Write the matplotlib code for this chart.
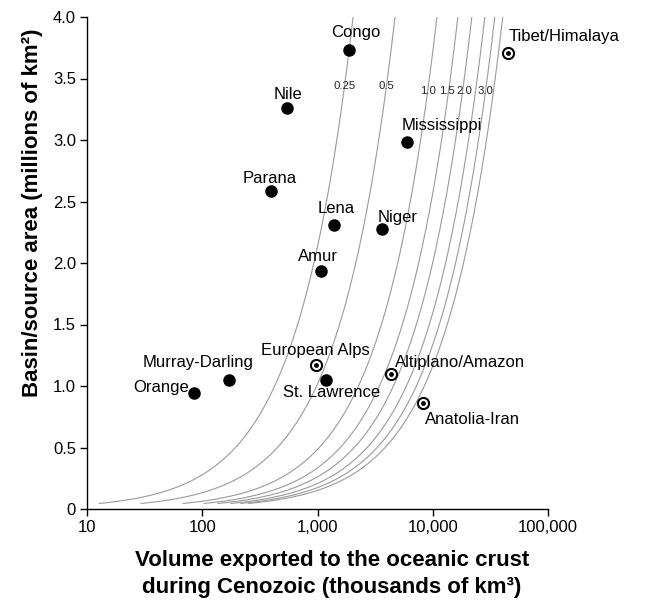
import numpy as np
import matplotlib.pyplot as plt

plt.rcParams['font.family'] = ['Liberation Sans', 'DejaVu Sans']

# river basins: exported volume (thousands of km3) vs basin area (millions of km2)
rivers = ['Congo', 'Nile', 'Mississippi', 'Parana', 'Lena', 'Niger', 'Amur',
          'St. Lawrence', 'Murray-Darling', 'Orange']
river_volume = [1890, 540, 6010, 397, 1377, 3606, 1083, 1189, 169, 84]
river_area = [3.73, 3.26, 2.98, 2.585, 2.31, 2.275, 1.935, 1.045, 1.05, 0.94]

# orogenic source areas
orogens = ['Tibet/Himalaya', 'European Alps', 'Altiplano/Amazon', 'Anatolia-Iran']
orogen_volume = [45100, 977, 4350, 8170]
orogen_area = [3.71, 1.17, 1.10, 0.865]

# reference curves (erosion depth, km): volume at 1 million km2
depths = [0.25, 0.5, 1.0, 1.5, 2.0, 2.5, 3.0, 3.5]
depth_k = [425, 982, 2268, 3447, 4557, 5905, 7208, 8451]
depth_exp = 1.13
depth_labels = ['0.25', '0.5', '1.0', '1.5', '2.0', '', '3.0', '']

xticks = [10, 100, 1000, 10000, 100000]
xticklabels = ['10', '100', '1,000', '10,000', '100,000']
yticks = [0, 0.5, 1.0, 1.5, 2.0, 2.5, 3.0, 3.5, 4.0]
yticklabels = ['0', '0.5', '1.0', '1.5', '2.0', '2.5', '3.0', '3.5', '4.0']

# label offsets in pixels (dx, dy up), alignment
river_off = {
    'Congo': (6, 18, 'center'), 'Nile': (1, 14, 'center'),
    'Mississippi': (35, 17, 'center'), 'Parana': (-2, 13, 'center'),
    'Lena': (3, 16, 'center'), 'Niger': (16, 12, 'center'),
    'Amur': (-4, 14, 'center'), 'St. Lawrence': (5, -12, 'center'),
    'Murray-Darling': (-30, 17, 'center'), 'Orange': (-5, 6, 'right'),
}
orogen_off = {
    'Tibet/Himalaya': (0, 16, 'left'), 'European Alps': (-1, 15, 'center'),
    'Altiplano/Amazon': (4, 11, 'left'), 'Anatolia-Iran': (2, -17, 'left'),
}
# small sideways nudges so the crowded curve labels don't collide
curve_nudge = {'1.5': -2, '2.0': 2}

fig = plt.figure(figsize=(6.62, 6.07), dpi=100)
ax = fig.add_axes([87 / 662, 1 - 509 / 607, 461 / 662, 492 / 607])

area = np.linspace(0.045, 4.0, 400)
for d, k, lab in zip(depths, depth_k, depth_labels):
    vol = k * area ** depth_exp
    ax.plot(vol, area, color='#9a9a9a', lw=0.8, zorder=1)
    if lab:
        ya = 3.44 if d < 1 else 3.40
        ax.annotate(lab, (k * ya ** depth_exp, ya),
                    xytext=(curve_nudge.get(lab, 0), 0), textcoords='offset pixels',
                    fontsize=8.2, ha='center', va='center', color='#222222', zorder=2)

ax.plot(river_volume, river_area, 'o', color='black', ms=8, zorder=3)
ax.plot(orogen_volume, orogen_area, 'o', color='black', ms=8.5, zorder=3)
ax.plot(orogen_volume, orogen_area, 'o', color='white', ms=5.5, zorder=4)
ax.plot(orogen_volume, orogen_area, 'o', color='black', ms=2.5, zorder=5)

for name, v, a in zip(rivers, river_volume, river_area):
    dx, dy, ha = river_off[name]
    ax.annotate(name, (v, a), xytext=(dx, dy), textcoords='offset pixels',
                ha=ha, va='center', fontsize=12)
for name, v, a in zip(orogens, orogen_volume, orogen_area):
    dx, dy, ha = orogen_off[name]
    ax.annotate(name, (v, a), xytext=(dx, dy), textcoords='offset pixels',
                ha=ha, va='center', fontsize=12, annotation_clip=False)

ax.set_xscale('log')
ax.set_xlim(10, 100000)
ax.set_ylim(0, 4.0)
ax.set_xticks(xticks)
ax.set_xticklabels(xticklabels)
ax.xaxis.set_minor_locator(plt.NullLocator())
ax.set_yticks(yticks)
ax.set_yticklabels(yticklabels)
ax.tick_params(direction='out', length=5, width=1, labelsize=12, pad=3)
for s in ['top', 'right']:
    ax.spines[s].set_visible(False)
for s in ['left', 'bottom']:
    ax.spines[s].set_linewidth(1)

fig.text(332 / 662, 1 - 574 / 607, 'Volume exported to the oceanic crust\nduring Cenozoic (thousands of km³)',
         ha='center', va='center', fontsize=16, fontweight='bold', linespacing=1.4)
fig.text(33 / 662, 1 - 213 / 607, 'Basin/source area (millions of km²)',
         ha='center', va='center', rotation=90, fontsize=16, fontweight='bold')

fig.savefig('out.png', dpi=100)
